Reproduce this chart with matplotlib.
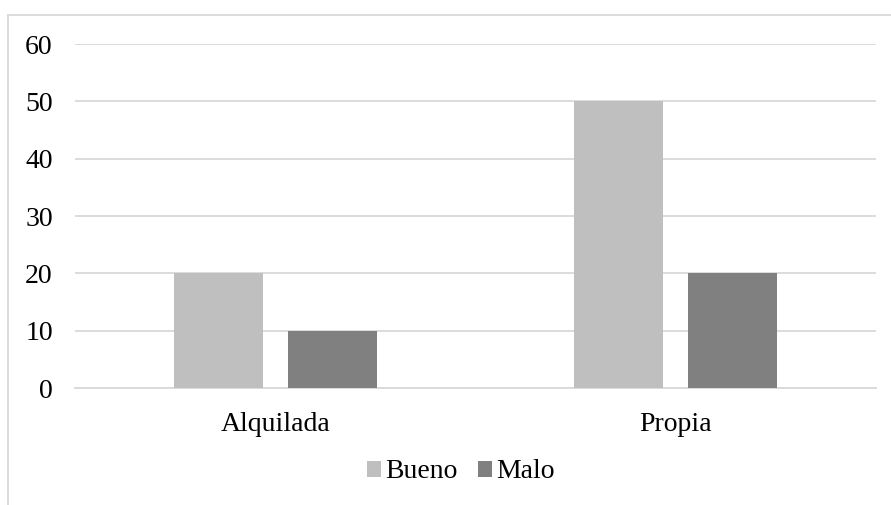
import numpy as np
import matplotlib
matplotlib.use('Agg')
import matplotlib.pyplot as plt
from matplotlib.lines import Line2D

categories = ['Alquilada', 'Propia']
series = ['Bueno', 'Malo']
bueno = [20, 50]
malo = [10, 20]
colors = ['#BFBFBF', '#808080']

plt.rcParams['font.family'] = ['Liberation Serif', 'DejaVu Serif']

fig = plt.figure(figsize=(8.91, 5.05), dpi=100)
ax = fig.add_axes([75/891, 117/505, 801/891, 344/505])

index = np.arange(len(categories))
bar_width = 0.222
offset = 0.142
ax.bar(index - offset, bueno, bar_width, color=colors[0], label=series[0], zorder=3)
ax.bar(index + offset, malo, bar_width, color=colors[1], label=series[1], zorder=3)

ax.set_xlim(-0.5, len(categories) - 0.5)
ax.set_ylim(0, 60)
ax.set_yticks(np.arange(0, 61, 10))
ax.yaxis.grid(True, color='#D9D9D9', linewidth=1.3, zorder=0)
ax.set_xticks(index)
ax.set_xticklabels(categories)
ax.tick_params(axis='both', length=0, labelsize=20)
ax.tick_params(axis='y', pad=16)
ax.tick_params(axis='x', pad=17)
for s in ['top', 'right', 'left']:
    ax.spines[s].set_visible(False)
ax.spines['bottom'].set_color('#D9D9D9')
ax.spines['bottom'].set_linewidth(1.3)

fig.legend(loc='center', bbox_to_anchor=(461/891, 1 - 472/505), ncol=2,
           frameon=False, fontsize=20, handlelength=0.5, handleheight=0.5,
           handletextpad=0.15, columnspacing=0.75)

# chart border (top and left edges visible)
fig.add_artist(Line2D([8/891, 1], [1 - 15/505] * 2, color='#D9D9D9', linewidth=1.3))
fig.add_artist(Line2D([8/891] * 2, [0, 1 - 15/505], color='#D9D9D9', linewidth=1.3))

plt.savefig('out.png', dpi=100)
